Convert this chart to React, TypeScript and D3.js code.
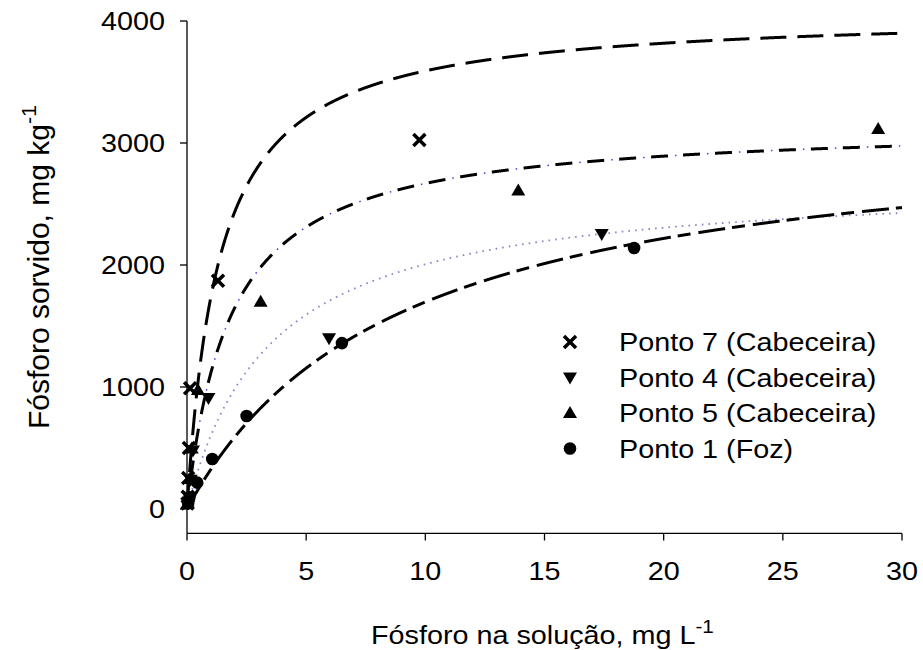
import React from "react";
import * as d3 from "d3";

const W = 923;
const H = 650;

const xTicks = [0, 5, 10, 15, 20, 25, 30];
const yTicks = [0, 1000, 2000, 3000, 4000];

// Ponto 7 (Cabeceira) - x marker
const p7X = [0.02, 0.03, 0.05, 0.08, 0.13, 1.3, 9.75];
const p7Y = [45, 100, 255, 500, 990, 1870, 3025];
// Ponto 4 (Cabeceira) - down triangle
const p4X = [0.05, 0.08, 0.15, 0.25, 0.9, 5.96, 17.4];
const p4Y = [50, 100, 240, 480, 910, 1400, 2254];
// Ponto 5 (Cabeceira) - up triangle
const p5X = [0.03, 0.05, 0.1, 0.2, 0.46, 3.09, 13.9, 29.0];
const p5Y = [50, 100, 245, 495, 975, 1699, 2610, 3115];
// Ponto 1 (Foz) - circle
const p1X = [0.05, 0.1, 0.43, 1.06, 2.5, 6.5, 18.76];
const p1Y = [45, 95, 216, 410, 762, 1360, 2139];

const seriesNames = [
  "Ponto 7 (Cabeceira)",
  "Ponto 4 (Cabeceira)",
  "Ponto 5 (Cabeceira)",
  "Ponto 1 (Foz)",
];

// Langmuir fitted curves (Smax, K): order p7, p4, p5, p1
const fitSmax = [4075, 2710, 3157, 3201];
const fitK = [0.742, 0.285, 0.546, 0.1128];

const FONT = "'Liberation Sans', Arial, Helvetica, sans-serif";
const FS = 25;
const SX = 1.15;

const x = d3.scaleLinear().domain([0, 30]).range([187, 902]);
const y = d3.scaleLinear().domain([-200, 4000]).range([533.4, 21]);

const sampleX = d3.range(0, 30.0001, 0.01);

function curvePath(i: number) {
  const S = fitSmax[i];
  const K = fitK[i];
  const line = d3
    .line<number>()
    .x((v) => x(v))
    .y((v) => y((S * K * v) / (1 + K * v)));
  return line(sampleX) || "";
}

function Marker({ kind, cx, cy }: { kind: string; cx: number; cy: number }) {
  if (kind === "x") {
    return (
      <path
        d={`M${cx - 6},${cy - 6}L${cx + 6},${cy + 6}M${cx - 6},${cy + 6}L${cx + 6},${cy - 6}`}
        stroke="#000"
        strokeWidth={3.5}
        fill="none"
      />
    );
  }
  if (kind === "down") {
    return <path d={`M${cx - 7},${cy - 5}L${cx + 7},${cy - 5}L${cx},${cy + 7}Z`} fill="#000" />;
  }
  if (kind === "up") {
    return <path d={`M${cx - 7},${cy + 5}L${cx + 7},${cy + 5}L${cx},${cy - 7}Z`} fill="#000" />;
  }
  return <circle cx={cx} cy={cy} r={6.3} fill="#000" />;
}

function HText({
  px,
  py,
  anchor,
  children,
}: {
  px: number;
  py: number;
  anchor: string;
  children: React.ReactNode;
}) {
  return (
    <g transform={`translate(${px},${py}) scale(${SX},1)`}>
      <text x={0} y={0} textAnchor={anchor} fontFamily={FONT} fontSize={FS} fill="#000">
        {children}
      </text>
    </g>
  );
}

export default function App() {
  const series = [
    { xs: p7X, ys: p7Y, kind: "x" },
    { xs: p4X, ys: p4Y, kind: "down" },
    { xs: p5X, ys: p5Y, kind: "up" },
    { xs: p1X, ys: p1Y, kind: "circle" },
  ];
  const legendY = [342, 377.5, 413, 448.5];

  return (
    <svg
      width={W}
      height={H}
      viewBox={`0 0 ${W} ${H}`}
      style={{ position: "absolute", left: 0, top: 0, background: "#fff" }}
    >
      <rect width={W} height={H} fill="#fff" />

      {/* curves */}
      <path d={curvePath(0)} fill="none" stroke="#000" strokeWidth={3} strokeDasharray="26,11" />
      <path d={curvePath(2)} fill="none" stroke="#000" strokeWidth={3} strokeDasharray="17,15" />
      <path
        d={curvePath(2)}
        fill="none"
        stroke="#4040e0"
        strokeWidth={1.5}
        strokeDasharray="1.5,30.5"
        strokeDashoffset={8}
      />
      <path d={curvePath(1)} fill="none" stroke="#8585cc" strokeWidth={1.8} strokeDasharray="1.6,5.1" />
      <path d={curvePath(3)} fill="none" stroke="#000" strokeWidth={3} strokeDasharray="27,7,13,8" />

      {/* axes */}
      <line x1={187} y1={21} x2={187} y2={533.4} stroke="#000" strokeWidth={1.3} />
      <line x1={187} y1={533.4} x2={902} y2={533.4} stroke="#000" strokeWidth={1.3} />
      {yTicks.map((t) => (
        <g key={"y" + t}>
          <line x1={180} x2={187} y1={y(t)} y2={y(t)} stroke="#000" strokeWidth={1.3} />
          <HText px={165} py={y(t) + 9} anchor="end">
            {t}
          </HText>
        </g>
      ))}
      {xTicks.map((t) => (
        <g key={"x" + t}>
          <line x1={x(t)} x2={x(t)} y1={533.4} y2={540.5} stroke="#000" strokeWidth={1.3} />
          <HText px={x(t)} py={580} anchor="middle">
            {t}
          </HText>
        </g>
      ))}

      {/* points */}
      {series.map((s, si) =>
        s.xs.map((xv, i) => <Marker key={si + "-" + i} kind={s.kind} cx={x(xv)} cy={y(s.ys[i])} />)
      )}

      {/* legend */}
      {series.map((s, i) => (
        <g key={"lg" + i}>
          <Marker kind={s.kind} cx={570} cy={legendY[i]} />
          <HText px={619} py={legendY[i] + 9} anchor="start">
            {seriesNames[i]}
          </HText>
        </g>
      ))}

      {/* axis titles */}
      <HText px={371} py={644} anchor="start">
        Fósforo na solução, mg L
        <tspan fontSize={18} dy={-11}>
          -1
        </tspan>
      </HText>
      <g transform={`translate(49,267) rotate(-90) scale(1.2,${SX})`}>
        <text x={0} y={0} textAnchor="middle" fontFamily={FONT} fontSize={FS} fill="#000">
          Fósforo sorvido, mg kg
          <tspan fontSize={18} dy={-11}>
            -1
          </tspan>
        </text>
      </g>
    </svg>
  );
}
